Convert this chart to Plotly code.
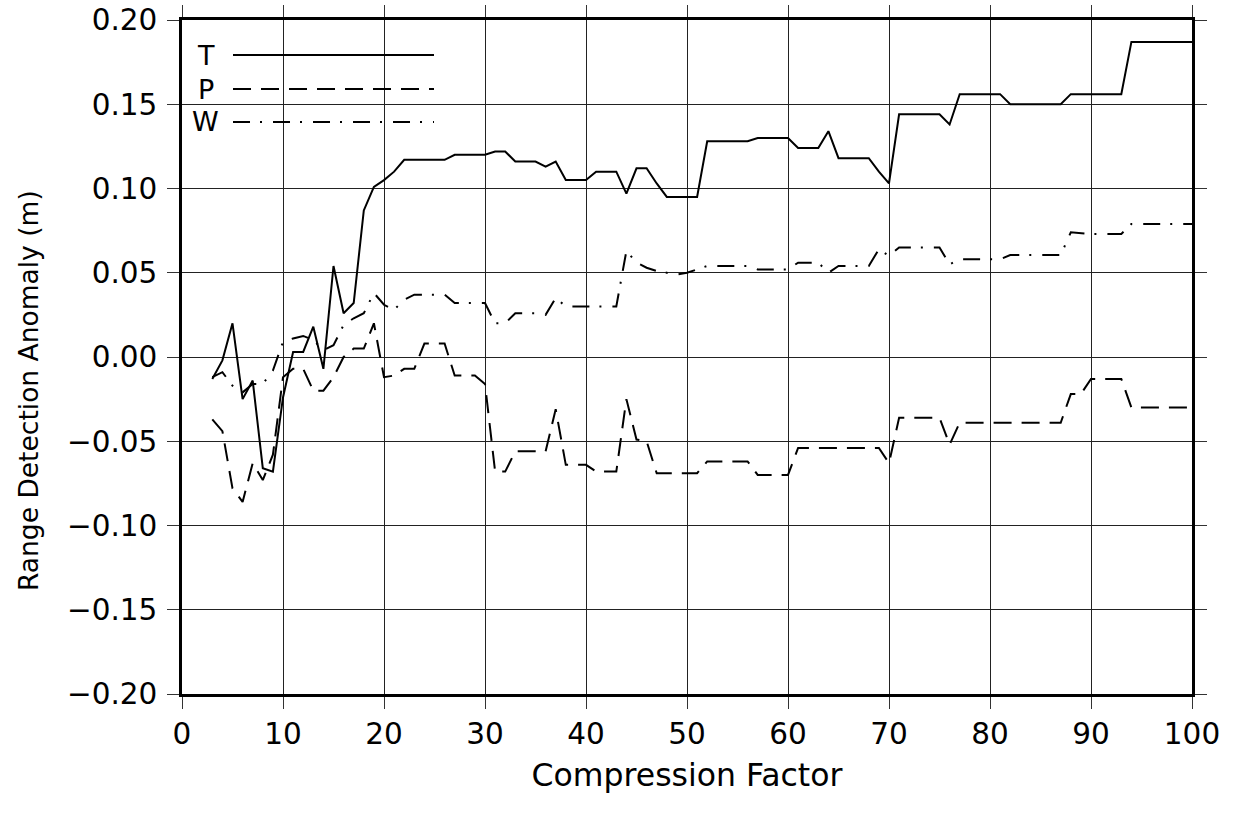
import plotly.graph_objects as go

x_vals = list(range(3, 101))

T_vals = [
    -0.013, -0.002, 0.020, -0.025, -0.014, -0.066, -0.068, -0.024,  # 3-10
    0.003, 0.003, 0.018, -0.007, 0.054, 0.026, 0.032, 0.087, 0.101, 0.105,  # 11-20
    0.110, 0.117, 0.117, 0.117, 0.117, 0.117, 0.120, 0.120, 0.120, 0.120,  # 21-30
    0.122, 0.122, 0.116, 0.116, 0.116, 0.113, 0.116, 0.105, 0.105, 0.105,  # 31-40
    0.110, 0.110, 0.110, 0.097, 0.112, 0.112, 0.103, 0.095, 0.095, 0.095,  # 41-50
    0.095, 0.128, 0.128, 0.128, 0.128, 0.128, 0.130, 0.130, 0.130, 0.130,  # 51-60
    0.124, 0.124, 0.124, 0.134, 0.118, 0.118, 0.118, 0.118, 0.110, 0.103,  # 61-70
    0.144, 0.144, 0.144, 0.144, 0.144, 0.138, 0.156, 0.156, 0.156, 0.156,  # 71-80
    0.156, 0.150, 0.150, 0.150, 0.150, 0.150, 0.150, 0.156, 0.156, 0.156,  # 81-90
    0.156, 0.156, 0.156, 0.187, 0.187, 0.187, 0.187, 0.187, 0.187, 0.187,  # 91-100
]

P_vals = [
    -0.037, -0.044, -0.078, -0.086, -0.063, -0.073, -0.058, -0.012,  # 3-10
    -0.007, -0.007, -0.020, -0.020, -0.012, 0.000, 0.005, 0.005, 0.020, -0.012,  # 11-20
    -0.011, -0.007, -0.007, 0.008, 0.008, 0.008, -0.011, -0.011, -0.011, -0.016,  # 21-30
    -0.068, -0.068, -0.056, -0.056, -0.056, -0.056, -0.031, -0.064, -0.064, -0.064,  # 31-40
    -0.068, -0.068, -0.068, -0.025, -0.049, -0.050, -0.069, -0.069, -0.069, -0.069,  # 41-50
    -0.069, -0.062, -0.062, -0.062, -0.062, -0.062, -0.070, -0.070, -0.070, -0.070,  # 51-60
    -0.054, -0.054, -0.054, -0.054, -0.054, -0.054, -0.054, -0.054, -0.054, -0.063,  # 61-70
    -0.036, -0.036, -0.036, -0.036, -0.036, -0.052, -0.039, -0.039, -0.039, -0.039,  # 71-80
    -0.039, -0.039, -0.039, -0.039, -0.039, -0.039, -0.039, -0.022, -0.022, -0.013,  # 81-90
    -0.013, -0.013, -0.013, -0.030, -0.030, -0.030, -0.030, -0.030, -0.030, -0.030,  # 91-100
]

W_vals = [
    -0.012, -0.009, -0.017, -0.021, -0.016, -0.016, -0.008, 0.009,  # 3-10
    0.011, 0.0125, 0.010, 0.004, 0.007, 0.019, 0.023, 0.026, 0.038, 0.031,  # 11-20
    0.028, 0.034, 0.037, 0.037, 0.037, 0.037, 0.032, 0.032, 0.032, 0.032,  # 21-30
    0.020, 0.020, 0.026, 0.026, 0.026, 0.025, 0.035, 0.030, 0.030, 0.030,  # 31-40
    0.030, 0.030, 0.030, 0.063, 0.056, 0.053, 0.051, 0.050, 0.049, 0.050,  # 41-50
    0.052, 0.054, 0.054, 0.054, 0.054, 0.054, 0.052, 0.052, 0.052, 0.052,  # 51-60
    0.056, 0.056, 0.056, 0.050, 0.054, 0.054, 0.054, 0.054, 0.064, 0.060,  # 61-70
    0.065, 0.065, 0.065, 0.065, 0.065, 0.055, 0.058, 0.058, 0.058, 0.058,  # 71-80
    0.058, 0.0605, 0.0605, 0.0605, 0.0605, 0.0605, 0.0605, 0.074, 0.0735, 0.073,  # 81-90
    0.073, 0.073, 0.073, 0.079, 0.079, 0.079, 0.079, 0.079, 0.079, 0.079,  # 91-100
]

series_names = ["T", "P", "W"]
series_vals = [T_vals, P_vals, W_vals]
dash_styles = ["solid", "18px,10px", "17px,10px,2px,11px"]

FONT = "DejaVu Sans"

fig = go.Figure()
for name, vals, dash in zip(series_names, series_vals, dash_styles):
    fig.add_trace(go.Scatter(
        x=x_vals, y=vals, mode="lines", name=name,
        line=dict(color="black", width=2, dash=dash),
        showlegend=False,
    ))

# manual legend (text left of a long line sample)
legend_y = [0.948, 0.8976, 0.8487]
for name, dash, ly in zip(series_names, dash_styles, legend_y):
    fig.add_shape(type="line", xref="paper", yref="paper",
                  x0=0.0505, x1=0.2495, y0=ly, y1=ly,
                  line=dict(color="black", width=2, dash=dash))
    fig.add_annotation(xref="paper", yref="paper", x=0.0235, y=ly,
                       text=name, showarrow=False, xanchor="center", yanchor="middle",
                       font=dict(family=FONT, size=27, color="black"))

# y-axis title (placed slightly below the plot centre, as in the original)
fig.add_annotation(xref="paper", yref="paper", x=-0.1525, y=0.451,
                   text="Range Detection Anomaly (m)", textangle=-90, showarrow=False,
                   xanchor="center", yanchor="middle",
                   font=dict(family=FONT, size=26.5, color="black"))

axis_common = dict(
    showline=True, linecolor="black", linewidth=2.5, mirror="allticks",
    ticks="outside", ticklen=12, tickwidth=1, tickcolor="#333",
    showgrid=True, gridcolor="#222", gridwidth=1, zeroline=False,
    tickfont=dict(family=FONT, size=29.5, color="black"),
    automargin=False,
)

fig.update_xaxes(range=[0, 100], dtick=10, tick0=0,
                 title=dict(text="Compression Factor", font=dict(family=FONT, size=31.5, color="black"), standoff=14),
                 **axis_common)
fig.update_yaxes(range=[-0.2, 0.2], dtick=0.05, tick0=0, tickformat=".2f",
                 ticklabelstandoff=4,
                 **axis_common)

fig.update_layout(
    width=1234, height=814,
    margin=dict(l=182, r=42, t=20, b=120),
    plot_bgcolor="white", paper_bgcolor="white",
    font=dict(family=FONT, color="black"),
)

fig.write_html("out.html")
